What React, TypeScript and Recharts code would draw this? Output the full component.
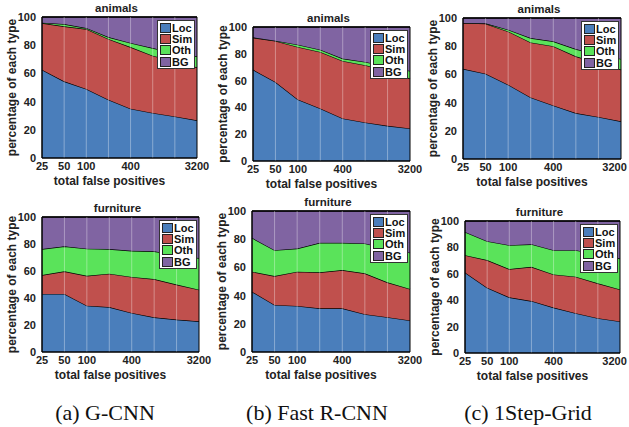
import React from "react";
import { AreaChart, Area, XAxis, YAxis, ReferenceLine, ReferenceArea, Text } from "recharts";

// x axis: total false positives (log2 steps)
const FP = [25, 50, 100, 200, 400, 800, 1600, 3200];
const FP_LABELS = [25, 50, 100, 400, 3200];
const Y_TICKS = [0, 20, 40, 60, 80, 100];

const TYPES = ["Loc", "Sim", "Oth", "BG"];
const COLORS = ["#4a7ebb", "#c0504d", "#5ae35a", "#8064a2"];

// (a) G-CNN
const gcnnAnimalsLoc = [62.6, 54.4, 49.0, 41.4, 35.0, 32.0, 29.5, 26.7];
const gcnnAnimalsSim = [33.1, 39.0, 42.5, 43.0, 43.7, 40.6, 39.1, 37.6];
const gcnnAnimalsOth = [0.3, 1.6, 0.7, 1.4, 2.9, 5.4, 5.9, 7.8];
const gcnnAnimalsBg = [4.0, 5.0, 7.8, 14.2, 18.4, 22.0, 25.5, 27.9];

const gcnnFurnitureLoc = [43.0, 43.0, 34.3, 33.3, 28.9, 25.7, 24.0, 22.7];
const gcnnFurnitureSim = [14.0, 16.8, 22.2, 24.7, 26.7, 28.3, 26.0, 23.5];
const gcnnFurnitureOth = [19.3, 18.5, 20.0, 18.3, 19.4, 20.6, 22.0, 23.4];
const gcnnFurnitureBg = [23.7, 21.7, 23.5, 23.7, 25.0, 25.4, 28.0, 30.4];

// (b) Fast R-CNN
const fastAnimalsLoc = [68.2, 59.0, 45.9, 39.2, 31.8, 28.8, 26.3, 24.3];
const fastAnimalsSim = [23.8, 30.6, 39.2, 42.2, 42.9, 42.7, 41.4, 37.2];
const fastAnimalsOth = [0.3, 0.2, 1.7, 1.7, 1.7, 2.4, 3.0, 5.7];
const fastAnimalsBg = [7.7, 10.2, 13.2, 16.9, 23.6, 26.1, 29.3, 32.8];

const fastFurnitureLoc = [42.8, 33.4, 32.7, 31.0, 31.0, 26.8, 24.7, 22.4];
const fastFurnitureSim = [14.2, 20.5, 24.3, 25.5, 27.1, 29.0, 24.7, 22.3];
const fastFurnitureOth = [24.0, 18.3, 16.4, 20.9, 19.3, 21.2, 24.0, 25.7];
const fastFurnitureBg = [19.0, 27.8, 26.6, 22.6, 22.6, 23.0, 26.6, 29.6];

// (c) 1Step-Grid
const gridAnimalsLoc = [64.0, 60.5, 52.7, 43.7, 38.0, 32.6, 29.8, 26.7];
const gridAnimalsSim = [32.5, 35.5, 37.8, 39.0, 42.0, 40.2, 38.2, 36.7];
const gridAnimalsOth = [0.0, 0.2, 1.2, 3.1, 3.5, 5.2, 6.0, 7.6];
const gridAnimalsBg = [3.5, 3.8, 8.3, 14.2, 16.5, 22.0, 26.0, 29.0];

const gridFurnitureLoc = [61.0, 49.5, 42.2, 39.4, 34.4, 30.2, 26.4, 23.9];
const gridFurnitureSim = [13.1, 20.9, 21.4, 25.9, 25.1, 27.6, 26.4, 24.3];
const gridFurnitureOth = [17.6, 14.3, 18.1, 17.1, 18.4, 20.1, 22.1, 23.4];
const gridFurnitureBg = [8.3, 15.3, 18.3, 17.6, 22.1, 22.1, 25.1, 28.4];

const CAPTIONS = ["(a) G-CNN", "(b) Fast R-CNN", "(c) 1Step-Grid"];

const PANELS = [
  { title: "animals", series: [gcnnAnimalsLoc, gcnnAnimalsSim, gcnnAnimalsOth, gcnnAnimalsBg], box: [42, 197, 17, 158] },
  { title: "animals", series: [fastAnimalsLoc, fastAnimalsSim, fastAnimalsOth, fastAnimalsBg], box: [253, 410, 27, 161] },
  { title: "animals", series: [gridAnimalsLoc, gridAnimalsSim, gridAnimalsOth, gridAnimalsBg], box: [463, 621, 18, 159] },
  { title: "furniture", series: [gcnnFurnitureLoc, gcnnFurnitureSim, gcnnFurnitureOth, gcnnFurnitureBg], box: [42, 199, 217, 352] },
  { title: "furniture", series: [fastFurnitureLoc, fastFurnitureSim, fastFurnitureOth, fastFurnitureBg], box: [252, 410, 211, 352] },
  { title: "furniture", series: [gridFurnitureLoc, gridFurnitureSim, gridFurnitureOth, gridFurnitureBg], box: [465, 620, 221, 353] },
];
const CAPTION_X = [105, 317, 528];

const FONT = "'Liberation Sans', Arial, sans-serif";
const AX_W = 42;
const TOP_PAD = 22;
const RIGHT_PAD = 16;
const X_H = 36;
const PAGE_RIGHT = 627;

const tickStyle = { fill: "#222", fontSize: 11, fontWeight: "bold", fontFamily: FONT };

function FpTick(props: any) {
  const { x, y, payload, maxX } = props;
  const v = payload.value;
  if (!FP_LABELS.includes(v)) return null;
  const label = String(v);
  const half = label.length * 3.1;
  const cx = Math.min(x, maxX - half);
  return (
    <Text x={cx} y={y} textAnchor="middle" verticalAnchor="start" {...tickStyle}>
      {label}
    </Text>
  );
}

function StackPanel({ title, series, box }: { title: string; series: number[][]; box: number[] }) {
  const [L, R, T, B] = box;
  const plotW = R - L;
  const plotH = B - T;
  const w = plotW + AX_W + RIGHT_PAD;
  const h = plotH + TOP_PAD + X_H;
  const chartLeft = L - AX_W;
  const data = FP.map((fp, i) => {
    const row: Record<string, number> = { fp };
    TYPES.forEach((t, k) => (row[t] = series[k][i]));
    return row;
  });

  return (
    <div style={{ position: "absolute", left: chartLeft, top: T - TOP_PAD, width: w, height: h }}>
      <div
        style={{
          position: "absolute",
          left: AX_W - 3,
          width: plotW,
          top: TOP_PAD - 9.5 - 7,
          height: 14,
          lineHeight: "14px",
          textAlign: "center",
          fontFamily: FONT,
          fontWeight: "bold",
          fontSize: 11.5,
          color: "#222",
        }}
      >
        {title}
      </div>
      <AreaChart width={w} height={h} data={data} margin={{ top: TOP_PAD, right: RIGHT_PAD, bottom: 0, left: 0 }}>
        <XAxis
          dataKey="fp"
          type="number"
          scale="log"
          domain={[25, 3200]}
          ticks={FP}
          interval={0}
          tickLine={false}
          tickSize={0}
          tickMargin={4}
          height={X_H}
          axisLine={{ stroke: "#000" }}
          tick={<FpTick maxX={PAGE_RIGHT - chartLeft} />}
          label={{
            value: "total false positives",
            position: "insideBottom",
            offset: 9.5,
            dx: -10,
            style: { fill: "#222", fontSize: 12, fontWeight: "bold", fontFamily: FONT },
          }}
        />
        <YAxis
          type="number"
          domain={[0, 100]}
          ticks={Y_TICKS}
          interval={0}
          width={AX_W}
          tickLine={false}
          tickSize={0}
          tickMargin={6}
          axisLine={{ stroke: "#000" }}
          tick={tickStyle}
          label={{
            value: "percentage of each type",
            angle: -90,
            position: "insideLeft",
            offset: 12,
            style: { textAnchor: "middle", fill: "#222", fontSize: 12, fontWeight: "bold", fontFamily: FONT },
          }}
        />
        {TYPES.map((t, k) => (
          <Area
            key={t}
            dataKey={t}
            stackId="1"
            type="linear"
            fill={COLORS[k]}
            fillOpacity={1}
            stroke="#000"
            strokeWidth={1.3}
            isAnimationActive={false}
            dot={false}
            activeDot={false}
          />
        ))}
        {FP.slice(1, -1).map((x) => (
          <ReferenceLine key={x} x={x} stroke="rgba(255,255,255,0.35)" strokeWidth={1} />
        ))}
        <ReferenceArea x1={25} x2={3200} y1={0} y2={100} fill="none" stroke="#000" strokeWidth={1} />
      </AreaChart>
      <div
        style={{
          position: "absolute",
          top: TOP_PAD + 3,
          left: AX_W + plotW - 2 - 38,
          width: 36,
          padding: "1px 0",
          background: "#fff",
          border: "1px solid #333",
          fontFamily: FONT,
          fontWeight: "bold",
          fontSize: 11,
          color: "#111",
        }}
      >
        {TYPES.map((t, k) => (
          <div key={t} style={{ display: "flex", alignItems: "center", height: 11.3, marginLeft: 2 }}>
            <span
              style={{
                display: "inline-block",
                width: 9,
                height: 8,
                background: COLORS[k],
                border: "1px solid #222",
                marginRight: 1,
              }}
            />
            <span>{t}</span>
          </div>
        ))}
      </div>
    </div>
  );
}

export default function App() {
  return (
    <div style={{ position: "absolute", left: 0, top: 0, width: 629, height: 427, background: "#fff", overflow: "hidden" }}>
      {PANELS.map((p, i) => (
        <StackPanel key={i} title={p.title} series={p.series} box={p.box} />
      ))}
      {CAPTIONS.map((c, i) => (
        <div
          key={c}
          style={{
            position: "absolute",
            left: CAPTION_X[i] - 100,
            width: 200,
            top: 401.6,
            lineHeight: "22px",
            fontSize: 22,
            textAlign: "center",
            fontFamily: "'Liberation Serif', 'Times New Roman', serif",
            color: "#111",
            whiteSpace: "nowrap",
          }}
        >
          {c}
        </div>
      ))}
    </div>
  );
}
